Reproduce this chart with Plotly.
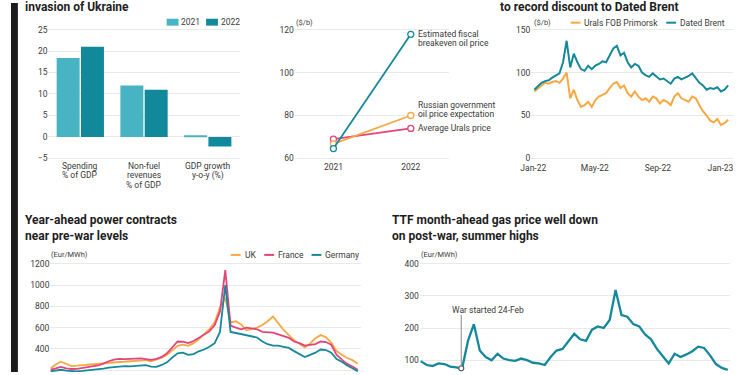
import pandas as pd
import plotly.graph_objects as go

W, H = 750, 375
FONT = "Roboto, Arial, sans-serif"
TXT = "#3a3a3a"
TITLE_C = "#1e1e1e"
GRID = "#e9e9e9"
TEAL = "#15889a"
C_2021 = "#47b3c3"
C_2022 = "#11899b"
ORANGE = "#f5a843"
PINK = "#e2457b"

# ---------------- data ----------------
TOP_LEFT_TITLE = "invasion of Ukraine"
TOP_RIGHT_TITLE = "to record discount to Dated Brent"
POWER_TITLE = "Year-ahead power contracts<br>near pre-war levels"
TTF_TITLE = "TTF month-ahead gas price well down<br>on post-war, summer highs"

# Panel 1: budget bars
BAR_CATEGORIES = ["Spending % of GDP", "Non-fuel revenues % of GDP", "GDP growth y-o-y (%)"]
BAR_CATEGORY_LINES = [["Spending", "% of GDP"], ["Non-fuel", "revenues", "% of GDP"], ["GDP growth", "y-o-y (%)"]]
BAR_2021 = [18.4, 12.0, 0.4]
BAR_2022 = [21.0, 11.0, -2.2]
BAR_YTICKS = [-5, 0, 5, 10, 15, 20, 25]
BAR_SERIES = ["2021", "2022"]

# Panel 2: oil price assumptions
OIL_YEARS = [2021, 2022]
FISCAL_BREAKEVEN = [64.6, 117.8]
GOV_EXPECTATION = [66.8, 80.0]
AVG_URALS = [69.0, 74.0]
OIL_YTICKS = [60, 80, 100, 120]
OIL_LABELS = {
    "fiscal": ["Estimated fiscal", "breakeven oil price"],
    "gov": ["Russian government", "oil price expectation"],
    "urals": ["Average Urals price"],
}

# Panel 3: Urals vs Brent (weekly)
CRUDE_START = "2022-01-03"
URALS = [78, 82, 85, 88, 87, 89, 90, 88, 93, 100, 70, 80, 68, 60, 62, 66, 60, 68, 72, 74,
         76, 82, 87, 89, 82, 85, 76, 72, 78, 72, 68, 70, 66, 72, 70, 64, 68, 66, 62, 72,
         76, 70, 68, 66, 72, 70, 62, 55, 50, 44, 42, 46, 39, 41, 45]
BRENT = [80, 84, 88, 90, 91, 94, 97, 99, 112, 137, 106, 122, 112, 104, 102, 108, 104, 108, 110, 113,
         112, 120, 128, 131, 120, 123, 112, 106, 110, 108, 100, 97, 95, 99, 96, 92, 93, 90, 87, 93,
         95, 92, 94, 96, 99, 94, 88, 85, 80, 82, 81, 83, 78, 80, 85]
CRUDE_XTICKS = ["2022-01-01", "2022-05-01", "2022-09-01", "2023-01-01"]
CRUDE_XTICKTEXT = ["Jan-22", "May-22", "Sep-22", "Jan-23"]
CRUDE_YTICKS = [0, 50, 100, 150]

# Panel 4: year-ahead power (weekly)
POWER_START = "2022-01-03"
POWER_UK = [215, 255, 280, 262, 240, 243, 248, 252, 258, 262, 268, 272, 276, 278, 280, 283, 286, 292, 296, 285,
            300, 318, 345, 390, 430, 440, 430, 455, 490, 540, 585, 650, 790, 880, 650, 660, 630, 575, 590, 600,
            625, 660, 705, 640, 580, 530, 480, 450, 415, 450, 500, 530, 510, 460, 380, 345, 315, 295, 262]
POWER_FR = [205, 220, 232, 218, 212, 214, 220, 226, 234, 245, 262, 285, 300, 307, 305, 308, 310, 312, 305, 298,
            308, 325, 360, 420, 470, 468, 455, 475, 505, 530, 565, 625, 750, 1140, 620, 600, 585, 600, 590, 585,
            560, 555, 554, 538, 520, 505, 470, 455, 431, 440, 446, 470, 465, 440, 345, 300, 260, 235, 205]
POWER_DE = [190, 200, 205, 196, 192, 190, 194, 198, 204, 210, 215, 225, 232, 238, 240, 236, 242, 245, 248, 235,
            232, 250, 275, 320, 360, 365, 345, 352, 378, 395, 420, 455, 560, 1000, 560, 550, 538, 525, 515, 508,
            470, 445, 431, 431, 420, 410, 380, 350, 325, 345, 365, 395, 390, 365, 305, 280, 245, 220, 190]
POWER_YTICKS = [200, 400, 600, 800, 1000, 1200]

# Panel 5: TTF month-ahead (weekly)
TTF_START = "2022-01-07"
TTF = [97, 85, 82, 90, 88, 80, 78, 74, 160, 212, 130, 110, 100, 120, 105, 100, 98, 105, 100, 92,
       90, 85, 110, 130, 135, 160, 182, 165, 160, 195, 205, 200, 225, 318, 240, 235, 212, 205, 180, 165,
       135, 112, 90, 120, 110, 118, 128, 142, 138, 115, 88, 76, 70]
TTF_YTICKS = [100, 200, 300, 400]
WAR_DATE = "2022-02-24"
WAR_VALUE = 75
WAR_LABEL = "War started 24-Feb"

crude_dates = pd.date_range(CRUDE_START, periods=len(BRENT), freq="7D")
power_dates = pd.date_range(POWER_START, periods=len(POWER_UK), freq="7D")
ttf_dates = pd.date_range(TTF_START, periods=len(TTF), freq="7D")


def fx(px):
    return px / W


def fy(py):
    return 1 - py / H


fig = go.Figure()

# Panel 1
fig.add_trace(go.Bar(x=BAR_CATEGORIES, y=BAR_2021, name=BAR_SERIES[0], marker=dict(color=C_2021, line_width=0),
                     xaxis="x", yaxis="y"))
fig.add_trace(go.Bar(x=BAR_CATEGORIES, y=BAR_2022, name=BAR_SERIES[1], marker=dict(color=C_2022, line_width=0),
                     xaxis="x", yaxis="y"))

# Panel 2
for vals, col in [(AVG_URALS, PINK), (GOV_EXPECTATION, ORANGE), (FISCAL_BREAKEVEN, TEAL)]:
    fig.add_trace(go.Scatter(x=OIL_YEARS, y=vals, mode="lines+markers", xaxis="x2", yaxis="y2",
                             line=dict(color=col, width=1.8),
                             marker=dict(symbol="circle", size=6, color="white", line=dict(color=col, width=1.3))))

# Panel 3
fig.add_trace(go.Scatter(x=crude_dates, y=URALS, mode="lines", xaxis="x3", yaxis="y3",
                         line=dict(color=ORANGE, width=2)))
fig.add_trace(go.Scatter(x=crude_dates, y=BRENT, mode="lines", xaxis="x3", yaxis="y3",
                         line=dict(color=TEAL, width=2)))

# Panel 4
for vals, col in [(POWER_UK, ORANGE), (POWER_FR, PINK), (POWER_DE, TEAL)]:
    fig.add_trace(go.Scatter(x=power_dates, y=vals, mode="lines", xaxis="x4", yaxis="y4",
                             line=dict(color=col, width=1.8)))

# Panel 5
fig.add_trace(go.Scatter(x=ttf_dates, y=TTF, mode="lines", xaxis="x5", yaxis="y5",
                         line=dict(color=TEAL, width=2.3)))
fig.add_trace(go.Scatter(x=[WAR_DATE], y=[WAR_VALUE], mode="markers", xaxis="x5", yaxis="y5",
                         marker=dict(symbol="circle", size=5, color="white", line=dict(color="#555", width=1.2))))

tickfont = dict(size=8.5, color=TXT, family=FONT)


def yax(y0, y1, rng, tickvals, anchor):
    return dict(domain=[fy(y1), fy(y0)], range=rng, tickvals=tickvals, showgrid=True, gridcolor=GRID,
                gridwidth=1, zeroline=False, showline=False, ticks="", tickfont=tickfont, anchor=anchor,
                fixedrange=True)


def xax(x0, x1, anchor, **kw):
    d = dict(domain=[fx(x0), fx(x1)], anchor=anchor, showgrid=False, zeroline=False, showline=False,
             ticks="", tickfont=tickfont, fixedrange=True)
    d.update(kw)
    return d


layout = dict(
    width=W, height=H, margin=dict(l=0, r=0, t=0, b=0), paper_bgcolor="white", plot_bgcolor="white",
    showlegend=False, barmode="group", bargap=0.237, bargroupgap=0.055, font=dict(family=FONT, color=TXT),
    xaxis=xax(38, 232, "y", type="category", showticklabels=False),
    yaxis=yax(22.6, 166.7, [-7, 26], BAR_YTICKS, "x"),
    xaxis2=xax(288, 445, "y2", range=[2020.5, 2022.5], tickvals=OIL_YEARS, ticktext=[str(v) for v in OIL_YEARS]),
    yaxis2=yax(24.8, 160.2, [59, 121], OIL_YTICKS, "x2"),
    xaxis3=xax(528, 733, "y3", type="date", range=["2021-12-28", "2023-01-26"], tickvals=CRUDE_XTICKS,
               ticktext=CRUDE_XTICKTEXT),
    yaxis3=yax(24.4, 160.6, [-3, 153], CRUDE_YTICKS, "x3"),
    xaxis4=xax(40, 355, "y4", type="date", range=["2022-01-03", "2023-02-17"], showticklabels=False),
    yaxis4=yax(259, 375, [184, 1255], POWER_YTICKS, "x4"),
    xaxis5=xax(415, 730, "y5", type="date", range=["2022-01-06", "2023-01-09"], showticklabels=False),
    yaxis5=yax(259, 375, [63.3, 418], TTF_YTICKS, "x5"),
)
fig.update_layout(**layout)

ann = []
shapes = []


def txt(xp, yp, text, size=8.5, color=TXT, bold=False, xanchor="left"):
    ann.append(dict(x=fx(xp), y=fy(yp), xref="paper", yref="paper", text=f"<b>{text}</b>" if bold else text,
                    showarrow=False, xanchor=xanchor, yanchor="middle", borderpad=0, align="left",
                    font=dict(size=size, color=color, family=FONT)))


# Titles
txt(13, 4.5, TOP_LEFT_TITLE, size=12, color=TITLE_C, bold=True)
txt(495, 4.5, TOP_RIGHT_TITLE, size=12, color=TITLE_C, bold=True)
txt(13, 228.6, POWER_TITLE, size=12, color=TITLE_C, bold=True)
txt(386, 228.6, TTF_TITLE, size=12, color=TITLE_C, bold=True)

# Panel 1 category labels
for cat, lines in zip(BAR_CATEGORIES, BAR_CATEGORY_LINES):
    for i, line in enumerate(lines):
        ann.append(dict(x=cat, xref="x", y=fy(166 + 9.3 * i), yref="paper", text=line, showarrow=False,
                        xanchor="center", yanchor="middle", borderpad=0, font=tickfont))

# Panel 1 legend
for (x0, label, col) in [(158, BAR_SERIES[0], C_2021), (198, BAR_SERIES[1], C_2022)]:
    shapes.append(dict(type="rect", xref="paper", yref="paper", x0=fx(x0), x1=fx(x0 + 12), y0=fy(23), y1=fy(16),
                       fillcolor=col, line_width=0))
    txt(x0 + 14, 19.5, label)

# Panel 2 units and labels
txt(288, 20, "($/b)", size=7.5)
for key, vals, shifts in [("fiscal", FISCAL_BREAKEVEN, [0, -9]), ("gov", GOV_EXPECTATION, [10.3, 1.6]),
                          ("urals", AVG_URALS, [0.7])]:
    for line, ys in zip(OIL_LABELS[key], shifts):
        ann.append(dict(x=OIL_YEARS[-1], xref="x2", y=vals[-1], yref="y2", text=line, showarrow=False,
                        xanchor="left", yanchor="middle", xshift=6, yshift=ys, borderpad=0, font=tickfont))

# Panel 3 legend
txt(530, 20, "($/b)", size=7.5)
for (x0, label, col) in [(568, "Urals FOB Primorsk", ORANGE), (665, "Dated Brent", TEAL)]:
    shapes.append(dict(type="line", xref="paper", yref="paper", x0=fx(x0), x1=fx(x0 + 10), y0=fy(20), y1=fy(20),
                       line=dict(color=col, width=2)))
    txt(x0 + 13, 20, label)

# Panel 4 legend
txt(40, 256, "(Eur/MWh)", size=7.5)
for (x0, label, col) in [(223, "UK", ORANGE), (257, "France", PINK), (305, "Germany", TEAL)]:
    shapes.append(dict(type="line", xref="paper", yref="paper", x0=fx(x0), x1=fx(x0 + 10), y0=fy(256), y1=fy(256),
                       line=dict(color=col, width=2)))
    txt(x0 + 13, 256, label)

# Panel 5
txt(415, 256, "(Eur/MWh)", size=7.5)
shapes.append(dict(type="line", xref="x5", yref="y5", x0=WAR_DATE, x1=WAR_DATE, y0=WAR_VALUE + 4, y1=241,
                   line=dict(color="#8a8a8a", width=1)))
txt(447, 311.7, WAR_LABEL)

# Left dark strip
shapes.append(dict(type="rect", xref="paper", yref="paper", x0=0, x1=fx(7), y0=0, y1=1, fillcolor="#1c1c1c",
                   line_width=0, layer="above"))

fig.update_layout(annotations=ann, shapes=shapes)
fig.write_html("out.html", config={"displayModeBar": False},
               post_script="document.body.style.margin='0';document.body.style.overflow='hidden';")
